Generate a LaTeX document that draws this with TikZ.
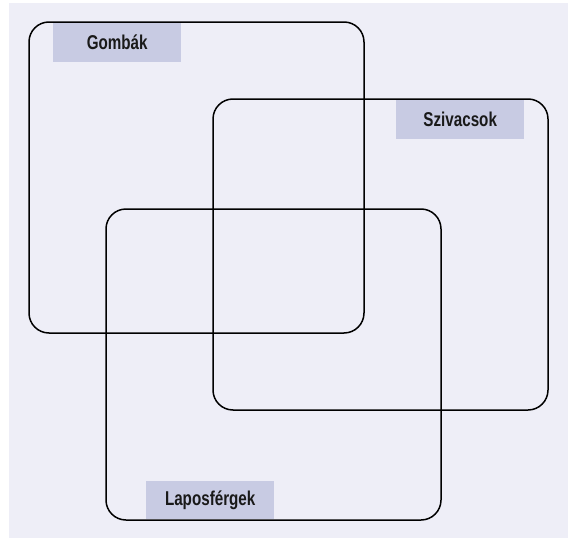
\documentclass[tikz,border=0pt]{standalone}
\usepackage{fontspec}
\setmainfont{Liberation Sans}[FakeStretch=0.76]
\definecolor{bgc}{HTML}{EEEEF7}
\definecolor{labc}{HTML}{C8CBE3}
\begin{document}
\begin{tikzpicture}[x=1pt,y=-1pt,
  setbox/.style={draw=black,line width=1.5pt,rounded corners=20pt},
  labelbox/.style={fill=labc,inner sep=0pt,minimum width=128pt,minimum height=39pt,
    font=\fontsize{20}{22}\selectfont\bfseries,text=black!90}]
\useasboundingbox (0,0) rectangle (568,538);
\fill[bgc] (9,3) rectangle (568,538);
\draw[setbox] (29,22) rectangle (364,333);
\draw[setbox] (213,99) rectangle (548,410);
\draw[setbox] (106,209) rectangle (441,520);
\node[labelbox,anchor=north west] (g) at (53,23) {Gombák};
\node[labelbox,anchor=north west] (s) at (396,100) {Szivacsok};
\node[labelbox,anchor=north west,minimum height=38pt] (l) at (146,481) {Laposférgek};
\end{tikzpicture}
\end{document}
